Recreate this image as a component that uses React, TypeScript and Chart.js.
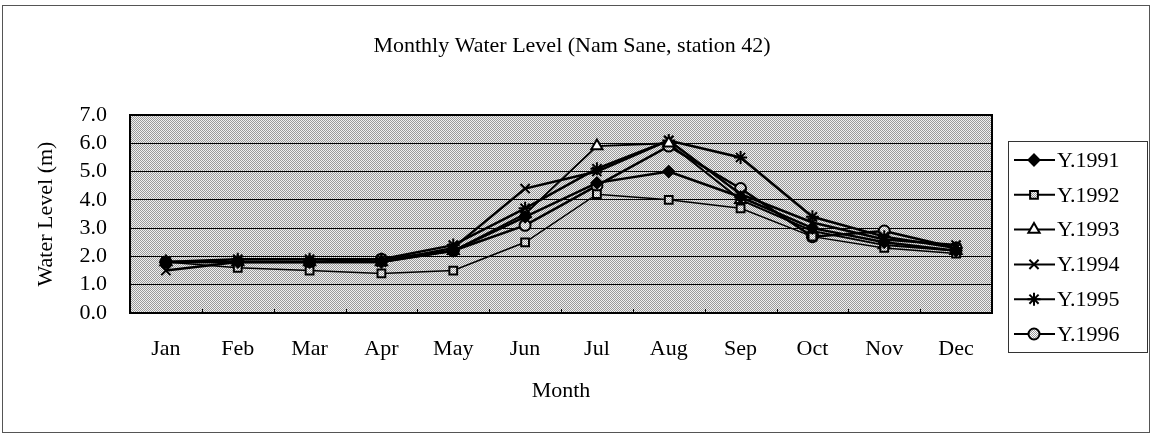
import React, { useEffect, useRef } from "react";
import { Chart, registerables } from "chart.js";
import { drawPoint } from "chart.js/helpers";

Chart.register(...registerables);

const chartTitle = "Monthly Water Level (Nam Sane, station 42)";
const months = ["Jan", "Feb", "Mar", "Apr", "May", "Jun", "Jul", "Aug", "Sep", "Oct", "Nov", "Dec"];
const seriesNames = ["Y.1991", "Y.1992", "Y.1993", "Y.1994", "Y.1995", "Y.1996"];
const y1991 = [1.8, 1.8, 1.8, 1.8, 2.2, 3.4, 4.6, 5.0, 4.1, 3.0, 2.5, 2.2];
const y1992 = [1.8, 1.6, 1.5, 1.4, 1.5, 2.5, 4.2, 4.0, 3.7, 2.7, 2.3, 2.1];
const y1993 = [1.8, 1.8, 1.8, 1.8, 2.2, 3.5, 5.9, 6.0, 4.0, 2.9, 2.4, 2.2];
const y1994 = [1.5, 1.8, 1.8, 1.8, 2.3, 4.4, 5.0, 6.1, 4.2, 3.2, 2.6, 2.4];
const y1995 = [1.8, 1.9, 1.9, 1.9, 2.4, 3.7, 5.1, 6.1, 5.5, 3.4, 2.7, 2.3];
const y1996 = [1.8, 1.8, 1.8, 1.9, 2.2, 3.1, 4.5, 5.9, 4.4, 2.7, 2.9, 2.3];
const yTickValues = [0, 1, 2, 3, 4, 5, 6, 7];

const FONT = '"Liberation Serif", "Times New Roman", serif';
const FS = 22;

function makePattern(dark: string, light: string): CanvasPattern | string {
  const c = document.createElement("canvas");
  c.width = 2;
  c.height = 2;
  const g = c.getContext("2d");
  if (!g) return light;
  g.fillStyle = light;
  g.fillRect(0, 0, 2, 2);
  g.fillStyle = dark;
  g.fillRect(0, 0, 1, 1);
  g.fillRect(1, 1, 1, 1);
  const p = g.createPattern(c, "repeat");
  return p || light;
}

export default function App() {
  const ref = useRef<HTMLCanvasElement | null>(null);

  useEffect(() => {
    const canvas = ref.current;
    if (!canvas) return;
    const plotPattern = makePattern("#9a9a9a", "#f0f0f0");
    const markPattern = makePattern("#9a9a9a", "#ffffff");

    const styles = [
      { pointStyle: "rectRot", radius: 5.5, bg: "#000", lw: 2.5 },
      { pointStyle: "rect", radius: 5.5, bg: markPattern, lw: 1.5 },
      { pointStyle: "triangle", radius: 6.5, bg: "#fff", lw: 2 },
      { pointStyle: "crossRot", radius: 6.5, bg: "#000", lw: 2.5 },
      { pointStyle: "star", radius: 6.5, bg: "#000", lw: 2.5 },
      { pointStyle: "circle", radius: 5.5, bg: markPattern, lw: 2.5 },
    ];
    const values = [y1991, y1992, y1993, y1994, y1995, y1996];

    const datasets = values.map((v, i) => ({
      label: seriesNames[i],
      data: v,
      borderColor: "#000",
      borderWidth: styles[i].lw,
      pointStyle: styles[i].pointStyle as any,
      pointRadius: styles[i].radius,
      pointBorderWidth: 2,
      pointBorderColor: "#000",
      pointBackgroundColor: styles[i].bg as any,
      tension: 0,
      fill: false,
    }));

    const boxPlugin = {
      id: "boxPlugin",
      beforeDraw(chart: any) {
        const { ctx, chartArea: a } = chart;
        ctx.save();
        ctx.fillStyle = "#fff";
        ctx.fillRect(0, 0, chart.width, chart.height);
        ctx.strokeStyle = "#555";
        ctx.lineWidth = 1;
        ctx.strokeRect(2.5, 5.5, 1147, 427);
        ctx.fillStyle = plotPattern;
        ctx.fillRect(a.left, a.top, a.right - a.left, a.bottom - a.top);
        ctx.fillStyle = "#000";
        ctx.font = `${FS}px ${FONT}`;
        ctx.textAlign = "center";
        ctx.textBaseline = "alphabetic";
        ctx.fillText(chartTitle, 572, 52);
        ctx.restore();
      },
      beforeDatasetsDraw(chart: any) {
        const { ctx, chartArea: a, scales } = chart;
        ctx.save();
        ctx.strokeStyle = "#000";
        ctx.lineWidth = 1;
        const xs = scales.x;
        for (let i = 1; i < months.length; i++) {
          const x = Math.round((xs.getPixelForValue(i - 1) + xs.getPixelForValue(i)) / 2) + 0.5;
          ctx.beginPath();
          ctx.moveTo(x, a.bottom);
          ctx.lineTo(x, a.bottom - 4);
          ctx.stroke();
        }
        ctx.lineWidth = 2;
        ctx.strokeRect(a.left, a.top, a.right - a.left, a.bottom - a.top);
        ctx.restore();
      },
      afterDraw(chart: any) {
        const { ctx } = chart;
        ctx.save();
        const bx = 1008, by = 141, bw = 139, bh = 211;
        ctx.strokeStyle = "#333";
        ctx.lineWidth = 1;
        ctx.strokeRect(bx + 0.5, by + 0.5, bw, bh);
        chart.data.datasets.forEach((ds: any, i: number) => {
          const y = 160 + i * 34.8;
          ctx.strokeStyle = "#000";
          ctx.lineWidth = 2;
          ctx.beginPath();
          ctx.moveTo(1014, y);
          ctx.lineTo(1055, y);
          ctx.stroke();
          ctx.fillStyle = styles[i].bg as any;
          ctx.strokeStyle = "#000";
          ctx.lineWidth = 2;
          drawPoint(ctx, { pointStyle: styles[i].pointStyle as any, radius: styles[i].radius, rotation: 0, borderWidth: 2 }, 1034, y);
          ctx.fillStyle = "#000";
          ctx.font = `${FS}px ${FONT}`;
          ctx.textBaseline = "middle";
          ctx.textAlign = "left";
          ctx.fillText(ds.label, 1057, y + 1);
        });
        ctx.restore();
      },
    };

    const chart = new Chart(canvas, {
      type: "line",
      data: { labels: months, datasets: datasets as any },
      options: {
        responsive: false,
        animation: false,
        devicePixelRatio: 1,
        layout: { padding: { left: 0, right: 160, top: 115, bottom: 0 } },
        plugins: {
          legend: { display: false },
          tooltip: { enabled: false },
          title: { display: false },
        },
        scales: {
          x: {
            type: "category",
            offset: true,
            grid: { display: false, drawTicks: false },
            border: { display: false },
            ticks: { color: "#000", font: { family: FONT, size: FS }, padding: 23, maxRotation: 0, autoSkip: false },
            title: {
              display: true,
              text: "Month",
              color: "#000",
              font: { family: FONT, size: FS },
              padding: { top: 0, bottom: 31 },
            },
            afterFit(scale: any) {
              scale.height = 122;
            },
          },
          y: {
            min: 0,
            max: 7,
            afterBuildTicks(scale: any) {
              scale.ticks = yTickValues.map((v) => ({ value: v }));
            },
            grid: { color: "#000", lineWidth: 1, drawTicks: false },
            border: { display: false },
            ticks: {
              color: "#000",
              font: { family: FONT, size: FS },
              padding: 23,
              autoSkip: false,
              callback: (v: any) => Number(v).toFixed(1),
            },
            title: {
              display: true,
              text: "Water Level (m)",
              color: "#000",
              font: { family: FONT, size: FS },
              padding: { top: 33, bottom: 0 },
            },
            afterFit(scale: any) {
              scale.width = 130;
            },
          },
        },
      },
      plugins: [boxPlugin],
    });
    return () => chart.destroy();
  }, []);

  return (
    <div style={{ position: "fixed", left: 0, top: 0, width: 1152, height: 435 }}>
      <canvas ref={ref} width={1152} height={435} />
    </div>
  );
}
